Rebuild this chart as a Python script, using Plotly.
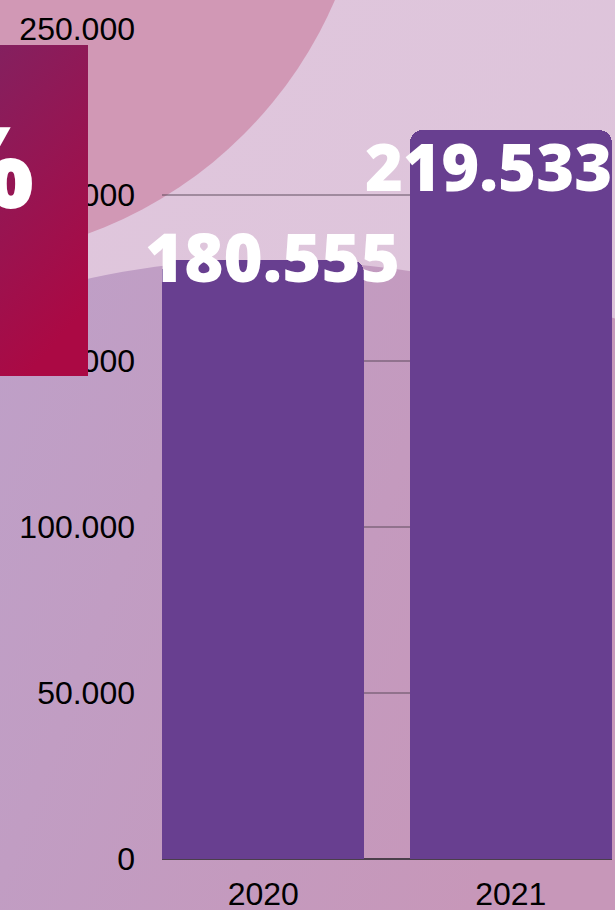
import base64
import plotly.graph_objects as go

# ---- data ----
years = ["2020", "2021"]
values = [180555, 219533]
y_ticks = [0, 50000, 100000, 150000, 200000, 250000]

W, H = 615, 910
L, R, T, B = 162, 3, 29, 51
pw, ph = W - L - R, H - T - B


def svg_uri(svg):
    return "data:image/svg+xml;base64," + base64.b64encode(svg.encode()).decode()


bg_svg = f"""<svg xmlns="http://www.w3.org/2000/svg" width="{W}" height="{H}" viewBox="0 0 {W} {H}">
<defs>
<linearGradient id="top" x1="0" y1="0" x2="1" y2="1">
<stop offset="0" stop-color="#E0C7DD"/><stop offset="1" stop-color="#DCC2D9"/></linearGradient>
<linearGradient id="low" x1="0" y1="0" x2="1" y2="0.4">
<stop offset="0" stop-color="#BEA0C8"/><stop offset="1" stop-color="#C797B9"/></linearGradient>
</defs>
<rect width="{W}" height="{H}" fill="url(#top)"/>
<path d="M -5,307 C 170,240 380,245 620,320 L 620,915 L -5,915 Z" fill="url(#low)"/>
<circle cx="-60" cy="-170" r="430" fill="#D198B5"/>
</svg>"""

box_svg = """<svg xmlns="http://www.w3.org/2000/svg" width="88" height="331" viewBox="0 0 88 331" preserveAspectRatio="none">
<defs><linearGradient id="m" x1="0" y1="0" x2="0.3" y2="1">
<stop offset="0" stop-color="#84205F"/><stop offset="1" stop-color="#AB0944"/></linearGradient></defs>
<rect width="88" height="331" fill="url(#m)"/></svg>"""


def px_x(p):
    return (p - L) / pw


def px_y(p):
    return (H - B - p) / ph


bar_w = 0.818
fig = go.Figure()
fig.add_trace(go.Bar(
    x=[0, 1], y=values, width=bar_w,
    marker=dict(color="#683F90", line=dict(width=0)),
    hoverinfo="skip",
))

labels = [f"{v:,}".replace(",", ".") for v in values]
shifts = [(9, 4), (-22, -36)]
sizes = [67, 65]
for i, (lab, v) in enumerate(zip(labels, values)):
    fig.add_annotation(
        x=i, y=v, xref="x", yref="y", text=lab, showarrow=False,
        xanchor="center", yanchor="middle",
        xshift=shifts[i][0], yshift=shifts[i][1],
        font=dict(family="Open Sans", size=sizes[i], color="white", weight=800),
    )

fig.add_layout_image(dict(
    source=svg_uri(bg_svg), xref="paper", yref="paper",
    x=px_x(0), y=px_y(0), sizex=W / pw, sizey=H / ph,
    xanchor="left", yanchor="top", sizing="stretch", layer="below",
))
fig.add_layout_image(dict(
    source=svg_uri(box_svg), xref="paper", yref="paper",
    x=px_x(0), y=px_y(45), sizex=88 / pw, sizey=331 / ph,
    xanchor="left", yanchor="top", sizing="stretch", layer="above",
))
fig.add_annotation(
    x=px_x(36), y=px_y(163), xref="paper", yref="paper", text="%",
    showarrow=False, xanchor="right", yanchor="middle",
    font=dict(family="Open Sans", size=114, color="white", weight=800),
)

fig.update_layout(
    width=W, height=H,
    margin=dict(l=L, r=R, t=T, b=B, pad=0),
    paper_bgcolor="rgba(0,0,0,0)", plot_bgcolor="rgba(0,0,0,0)",
    separators=",.",
    showlegend=False,
    bargap=0, barcornerradius=13,
    font=dict(family="Liberation Sans, Arial", size=32, color="black"),
    xaxis=dict(
        range=[-bar_w / 2, 1 + bar_w / 2], tickvals=[0, 1], ticktext=years,
        showgrid=False, zeroline=False, showline=False, automargin=False,
        ticks="", ticklabelstandoff=13, fixedrange=True,
    ),
    yaxis=dict(
        range=[0, 250000], tickvals=y_ticks, tickformat=",d",
        showgrid=True, gridcolor="rgba(80,63,80,0.44)", gridwidth=1.6,
        zeroline=True, zerolinecolor="#4B3F4B", zerolinewidth=2,
        showline=False, automargin=False,
        ticks="", ticklabelstandoff=26, fixedrange=True,
    ),
)

fig.write_html(
    "out.html",
    config={"displayModeBar": False},
    post_script="document.body.style.margin='0';document.body.style.overflow='hidden';",
)
